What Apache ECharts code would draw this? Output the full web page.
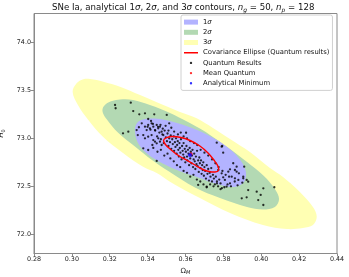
<!DOCTYPE html>
<html><head><meta charset="utf-8">
<script src="https://cdn.jsdelivr.net/npm/echarts@6/dist/echarts.min.js"></script>
<style>html,body{margin:0;padding:0;background:#fff}#c{width:349px;height:277px}</style>
</head><body><div id="c"></div>
<script>
// Axis ticks
const xTicks = [0.28, 0.30, 0.32, 0.34, 0.36, 0.38, 0.40, 0.42, 0.44];
const yTicks = [72.0, 72.5, 73.0, 73.5, 74.0];

// Contour boundaries [Omega_M, H0]
const sigma3 = [[0.3004,73.485],[0.3025,73.573],[0.3060,73.615],[0.3096,73.618],[0.3166,73.590],[0.3254,73.538],[0.3360,73.451],[0.3483,73.347],[0.3571,73.274],[0.3659,73.208],[0.3745,73.107],[0.3835,72.993],[0.3940,72.857],[0.4046,72.691],[0.4115,72.597],[0.4204,72.441],[0.4273,72.284],[0.4293,72.183],[0.4273,72.097],[0.4220,72.066],[0.4136,72.055],[0.4009,72.097],[0.3835,72.222],[0.3676,72.378],[0.3624,72.430],[0.3518,72.548],[0.3448,72.639],[0.3376,72.704],[0.3270,72.847],[0.3164,73.017],[0.3087,73.191],[0.3032,73.347]];
const sigma2 = [[0.3163,73.313],[0.3180,73.357],[0.3212,73.389],[0.3254,73.404],[0.3323,73.399],[0.3412,73.347],[0.3518,73.264],[0.3608,73.175],[0.3676,73.102],[0.3745,73.014],[0.3835,72.889],[0.3925,72.753],[0.4014,72.607],[0.4072,72.472],[0.4094,72.368],[0.4072,72.284],[0.4009,72.258],[0.3925,72.284],[0.3782,72.378],[0.3650,72.488],[0.3513,72.654],[0.3423,72.774],[0.3333,72.915],[0.3243,73.060],[0.3185,73.196],[0.3164,73.264]];
const sigma1 = [[0.3333,73.086],[0.3344,73.159],[0.3376,73.196],[0.3423,73.206],[0.3481,73.196],[0.3555,73.159],[0.3661,73.086],[0.3766,72.982],[0.3840,72.878],[0.3893,72.764],[0.3919,72.649],[0.3909,72.545],[0.3856,72.493],[0.3766,72.524],[0.3661,72.597],[0.3555,72.670],[0.3455,72.764],[0.3381,72.868],[0.3344,72.972]];
const covEllipse = [[0.3484,72.977],[0.3500,73.008],[0.3534,73.019],[0.3576,73.008],[0.3624,72.977],[0.3676,72.920],[0.3719,72.847],[0.3750,72.774],[0.3771,72.711],[0.3774,72.665],[0.3756,72.649],[0.3724,72.654],[0.3692,72.675],[0.3650,72.722],[0.3608,72.769],[0.3566,72.816],[0.3518,72.889],[0.3494,72.935]];

// Quantum results (sampled points)
const quantumOuter = [[0.3228,73.347],[0.3231,73.313],[0.3311,73.371],[0.3324,73.284],[0.3356,73.250],[0.3386,73.260],[0.3435,73.250],[0.3403,73.201],[0.3418,73.180],[0.3270,73.052],[0.3298,73.069],[0.3501,73.243],[0.3514,73.156],[0.3603,73.058],
[0.3765,72.954],[0.3791,72.913],[0.3799,72.850],[0.3794,72.920],[0.3835,72.677],[0.3870,72.652],[0.3905,72.583],[0.3923,72.566],[0.3667,72.514],[0.3712,72.496],[0.3897,72.375],[0.3923,72.385],[0.3976,72.444],[0.4011,72.479],[0.3984,72.357],[0.4011,72.305],[0.3910,72.704],[0.3882,72.635],[0.3905,72.600],[0.3931,72.548],[0.3900,72.538],[0.3931,72.461],[0.4069,72.490],[0.3997,72.410],[0.3817,72.496],[0.3835,72.531],[0.3808,72.566],[0.3844,72.600],[0.3791,72.635],[0.3826,72.652],[0.3861,72.670],[0.3773,72.670],[0.3852,72.740],[0.3870,72.704],[0.3879,72.566],[0.3799,72.594],[0.3861,72.583]];
const quantumLeft = [[0.3342,73.086],[0.3348,73.034],[0.3354,73.115],[0.3369,73.156],[0.3386,73.121],[0.3395,73.086],[0.3403,73.139],[0.3412,73.104],[0.3421,73.156],[0.3430,73.121],[0.3439,73.086],[0.3448,73.139],[0.3456,73.104],[0.3465,73.121],[0.3474,73.069],[0.3377,73.034],[0.3386,73.000],[0.3403,73.017],[0.3421,73.034],[0.3430,72.982],[0.3439,72.965],[0.3448,72.948],[0.3456,73.000],[0.3465,72.965],[0.3377,72.896],[0.3403,72.878],[0.3425,72.930],[0.3448,72.764],[0.3474,72.930],[0.3483,73.034]];
const quantumCore = [[0.3450,73.02],[0.3462,73.06],[0.3470,72.99],[0.3478,73.04],[0.3485,72.95],[0.3490,73.08],[0.3496,73.01],[0.3502,72.97],[0.3505,73.05],[0.3510,72.92],[0.3514,73.00],[0.3518,72.96],[0.3522,73.03],[0.3525,72.89],[0.3530,72.99],[0.3533,72.94],[0.3538,73.02],[0.3540,72.87],[0.3544,72.96],[0.3547,72.91],[0.3550,73.00],[0.3553,72.84],[0.3556,72.93],[0.3559,72.97],[0.3562,72.88],[0.3565,72.81],[0.3568,72.95],[0.3570,72.90],[0.3573,72.85],[0.3576,72.99],[0.3579,72.78],[0.3582,72.92],[0.3585,72.87],[0.3588,72.83],[0.3590,72.95],[0.3593,72.80],[0.3596,72.89],[0.3599,72.75],[0.3602,72.86],[0.3605,72.92],[0.3608,72.81],[0.3610,72.77],[0.3613,72.88],[0.3616,72.84],[0.3619,72.72],[0.3622,72.90],[0.3625,72.79],[0.3628,72.86],[0.3631,72.74],[0.3634,72.82],[0.3637,72.88],[0.3640,72.70],[0.3643,72.78],[0.3646,72.84],[0.3649,72.76],[0.3652,72.68],[0.3655,72.81],[0.3658,72.73],[0.3661,72.87],[0.3664,72.71],[0.3667,72.77],[0.3670,72.65],[0.3673,72.80],[0.3676,72.74],[0.3679,72.69],[0.3682,72.77],[0.3685,72.63],[0.3688,72.72],[0.3691,72.67],[0.3694,72.75],[0.3697,72.61],[0.3700,72.70],[0.3704,72.66],[0.3708,72.58],[0.3712,72.72],[0.3716,72.63],[0.3720,72.68],[0.3724,72.56],[0.3728,72.64],[0.3732,72.60],[0.3736,72.69],[0.3740,72.55],[0.3745,72.62],[0.3750,72.58],[0.3755,72.52],[0.3760,72.60],[0.3766,72.55],[0.3772,72.50],[0.3778,72.57],[0.3785,72.53],[0.3792,72.48],
[0.3400,73.12],[0.3415,73.09],[0.3428,73.15],[0.3440,73.08],[0.3455,73.12],[0.3468,73.14],[0.3480,73.10],[0.3495,73.13],[0.3510,73.08],[0.3525,73.11],[0.3540,73.07],[0.3560,73.04],[0.3575,73.06],[0.3590,73.02],[0.3608,73.00],[0.3625,72.97],[0.3645,72.95],[0.3662,72.93],[0.3680,72.88],[0.3700,72.85],[0.3720,72.82],[0.3740,72.78],[0.3758,72.74],[0.3775,72.70],[0.3795,72.66],[0.3812,72.62],[0.3830,72.60],
[0.3430,72.90],[0.3452,72.86],[0.3470,72.88],[0.3488,72.82],[0.3505,72.84],[0.3520,72.79],[0.3538,72.76],[0.3555,72.72],[0.3572,72.70],[0.3590,72.66],[0.3608,72.64],[0.3625,72.60],[0.3642,72.62],[0.3660,72.57],[0.3678,72.55],[0.3695,72.52],[0.3712,72.49],[0.3730,72.52],[0.3748,72.50],[0.3766,72.53],[0.3785,72.47],[0.3805,72.49],[0.3822,72.52],[0.3840,72.50],[0.3860,72.55],[0.3875,72.51]];
const meanQuantum = [[0.3629, 72.836]];
const analyticalMin = [[0.3624, 72.826]];

const FONT = 'DejaVu Sans';
const chart = echarts.init(document.getElementById('c'), null, {renderer: 'canvas'});

function region(name, pts, color, z) {
  return {
    type: 'custom', name: name, coordinateSystem: 'cartesian2d', z: z, silent: true,
    itemStyle: {color: color},
    data: [[pts[0][0], pts[0][1]]],
    renderItem: function (params, api) {
      return {type: 'polygon', shape: {points: pts.map(p => api.coord(p)), smooth: 0.35},
        style: {fill: color, stroke: null}};
    }
  };
}

const dotIcon = 'path://M0,0h0.01v0.01h-0.01z M13.99,4.99h0.01v0.01h-0.01z M5.8,2.5a1.2,1.2 0 1,0 2.4,0a1.2,1.2 0 1,0 -2.4,0z';
const lineIcon = 'path://M0,0h0.01v0.01h-0.01z M13.99,4.99h0.01v0.01h-0.01z M0,1.8h14v1.4h-14z';

const option = {
  animation: false,
  backgroundColor: '#fff',
  title: {
    text: 'SNe Ia, analytical 1{i|σ}, 2{i|σ}, and 3{i|σ} contours, {i|n}{s|g} = 50, {i|n}{s|p} = 128',
    left: 52, top: 0, padding: [2, 0, 0, 0],
    textStyle: {fontFamily: FONT, fontSize: 8.6, fontWeight: 'normal', color: '#111', lineHeight: 11,
      rich: {i: {fontFamily: FONT, fontSize: 8.6, fontStyle: 'italic', color: '#111', lineHeight: 11},
             s: {fontFamily: FONT, fontSize: 6, fontStyle: 'italic', color: '#111', lineHeight: 6, verticalAlign: 'bottom'}}}
  },
  grid: {left: 34, right: 12, top: 13.5, bottom: 23.5, show: true, borderColor: '#8a8a8a', borderWidth: 1,
    backgroundColor: 'transparent', outerBoundsMode: 'none', containLabel: false},
  xAxis: {
    type: 'value', min: 0.28, max: 0.44,
    name: '{a|Ω}{s|M}', nameLocation: 'middle', nameGap: 13,
    nameTextStyle: {rich: {a: {fontFamily: FONT, fontSize: 7.2, color: '#111', lineHeight: 9},
      s: {fontFamily: FONT, fontSize: 5, fontStyle: 'italic', color: '#111', lineHeight: 5, verticalAlign: 'bottom'}}},
    axisLine: {lineStyle: {color: '#8a8a8a', width: 1}},
    axisTick: {length: 3, lineStyle: {color: '#8a8a8a'}, customValues: xTicks},
    axisLabel: {customValues: xTicks, fontFamily: FONT, fontSize: 6.4, color: '#222', margin: 3,
      formatter: v => v.toFixed(2)},
    splitLine: {show: false}
  },
  yAxis: {
    type: 'value', min: 71.8, max: 74.3,
    name: '{i|H}{s|0}', nameLocation: 'middle', nameGap: 24, nameRotate: 90,
    nameTextStyle: {rich: {i: {fontFamily: FONT, fontSize: 7.2, fontStyle: 'italic', color: '#111', lineHeight: 9},
      s: {fontFamily: FONT, fontSize: 5, color: '#111', lineHeight: 5, verticalAlign: 'bottom'}}},
    axisLine: {show: true, lineStyle: {color: '#8a8a8a', width: 1}},
    axisTick: {show: true, length: 3, lineStyle: {color: '#8a8a8a'}, customValues: yTicks},
    axisLabel: {customValues: yTicks, fontFamily: FONT, fontSize: 6.4, color: '#222', margin: 3,
      formatter: v => v.toFixed(1)},
    splitLine: {show: false}
  },
  legend: {
    orient: 'vertical', left: 181, top: 15,
    backgroundColor: '#fff', borderColor: '#d0d0d0', borderWidth: 1, borderRadius: 2,
    padding: [3, 3, 3, 3], itemWidth: 14, itemHeight: 5, itemGap: 2,
    textStyle: {fontFamily: FONT, fontSize: 6.8, color: '#111', lineHeight: 8.2,
      rich: {i: {fontFamily: FONT, fontSize: 6.8, fontStyle: 'italic', color: '#111', lineHeight: 8.2}}},
    formatter: function (n) { return n.replace('σ', '{i|σ}'); },
    selectedMode: false,
    data: [
      {name: '1σ', icon: 'rect'},
      {name: '2σ', icon: 'rect'},
      {name: '3σ', icon: 'rect'},
      {name: 'Covariance Ellipse (Quantum results)', icon: lineIcon},
      {name: 'Quantum Results', icon: dotIcon},
      {name: 'Mean Quantum', icon: dotIcon},
      {name: 'Analytical Minimum', icon: dotIcon}
    ]
  },
  series: [
    region('3σ', sigma3, '#ffffb3', 1),
    region('2σ', sigma2, '#b3d9b3', 2),
    region('1σ', sigma1, '#b3b3ff', 3),
    {type: 'scatter', name: 'Quantum Results', data: quantumOuter.concat(quantumLeft, quantumCore),
      symbol: 'circle', symbolSize: 2.3, itemStyle: {color: '#000'}, z: 4, silent: true},
    {type: 'custom', name: 'Covariance Ellipse (Quantum results)', coordinateSystem: 'cartesian2d', z: 5, silent: true,
      itemStyle: {color: '#ff0000'}, data: [[covEllipse[0][0], covEllipse[0][1]]],
      renderItem: function (params, api) {
        return {type: 'polygon', shape: {points: covEllipse.map(p => api.coord(p)), smooth: 0.35},
          style: {fill: 'none', stroke: '#ff0000', lineWidth: 1.4}};
      }},
    {type: 'scatter', name: 'Mean Quantum', data: meanQuantum, symbolSize: 3.5, itemStyle: {color: '#ff0000'}, z: 6, silent: true},
    {type: 'scatter', name: 'Analytical Minimum', data: analyticalMin, symbolSize: 4, itemStyle: {color: '#0000ff'}, z: 7, silent: true}
  ]
};
chart.setOption(option);
</script></body></html>
